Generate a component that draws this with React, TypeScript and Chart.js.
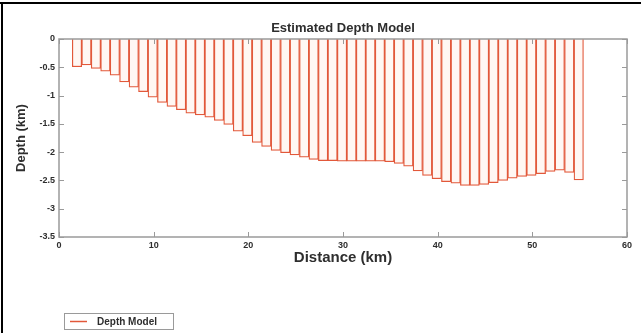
import React, { useEffect, useRef } from "react";
import { Chart, registerables } from "chart.js";

Chart.register(...registerables);

// Distance along the profile (km), one value per model cell
const distanceKm = [
  1.9, 2.9, 3.9, 4.9, 5.9, 6.9, 7.9, 8.9, 9.9, 10.9,
  11.9, 12.9, 13.9, 14.9, 15.9, 16.9, 17.9, 18.9, 19.9, 20.9,
  21.9, 22.9, 23.9, 24.9, 25.9, 26.9, 27.9, 28.9, 29.9, 30.9,
  31.9, 32.9, 33.9, 34.9, 35.9, 36.9, 37.9, 38.9, 39.9, 40.9,
  41.9, 42.9, 43.9, 44.9, 45.9, 46.9, 47.9, 48.9, 49.9, 50.9,
  51.9, 52.9, 53.9, 54.9,
];

// Estimated basement depth for each cell (km, negative downwards)
const modelDepthKm = [
  -0.49, -0.46, -0.52, -0.57, -0.64, -0.76, -0.85, -0.93, -1.03, -1.12,
  -1.19, -1.25, -1.31, -1.34, -1.38, -1.44, -1.51, -1.63, -1.71, -1.83,
  -1.9, -1.97, -2.01, -2.05, -2.09, -2.13, -2.15, -2.15, -2.16, -2.16,
  -2.16, -2.16, -2.16, -2.17, -2.2, -2.25, -2.33, -2.41, -2.47, -2.52,
  -2.55, -2.59, -2.59, -2.57, -2.54, -2.5, -2.46, -2.43, -2.41, -2.38,
  -2.34, -2.32, -2.36, -2.49,
];

const xTickValues = [0, 10, 20, 30, 40, 50, 60];
const yTickValues = [0, -0.5, -1, -1.5, -2, -2.5, -3, -3.5];

const chartTitle = "Estimated Depth Model";
const xAxisTitle = "Distance (km)";
const yAxisTitle = "Depth (km)";
const seriesName = "Depth Model";

const FONT = "'Liberation Sans', Arial, Helvetica, sans-serif";
const BAR_EDGE = "#e2583a";
const BAR_FILL = "#fff7f3";
const AXIS_COLOR = "#9a9a9a";
const TEXT_COLOR = "#2e2e2e";

// Box around the axes with inward ticks, the title, the legend and the page frame
const decorPlugin = {
  id: "decor",
  afterDraw(chart: any) {
    const { ctx, chartArea } = chart;
    const { left, right, top, bottom } = chartArea;
    const xs = chart.scales.x;
    const ys = chart.scales.y;
    ctx.save();

    // axes box
    ctx.strokeStyle = AXIS_COLOR;
    ctx.lineWidth = 1.5;
    ctx.strokeRect(left, top, right - left, bottom - top);

    // inward tick marks on all four sides
    const tl = 5;
    ctx.lineWidth = 1;
    ctx.beginPath();
    for (const v of xTickValues) {
      const px = Math.round(xs.getPixelForValue(v)) + 0.5;
      ctx.moveTo(px, bottom);
      ctx.lineTo(px, bottom - tl);
      ctx.moveTo(px, top);
      ctx.lineTo(px, top + tl);
    }
    for (const v of yTickValues) {
      const py = Math.round(ys.getPixelForValue(v)) + 0.5;
      ctx.moveTo(left, py);
      ctx.lineTo(left + tl, py);
      ctx.moveTo(right, py);
      ctx.lineTo(right - tl, py);
    }
    ctx.stroke();

    // title
    ctx.fillStyle = TEXT_COLOR;
    ctx.font = `bold 13px ${FONT}`;
    ctx.textAlign = "center";
    ctx.textBaseline = "middle";
    ctx.fillText(chartTitle, (left + right) / 2, 28);

    // legend
    const lx = 64.5, ly = 313.5, lw = 109, lh = 16;
    ctx.fillStyle = "#ffffff";
    ctx.fillRect(lx, ly, lw, lh);
    ctx.strokeStyle = AXIS_COLOR;
    ctx.lineWidth = 1;
    ctx.strokeRect(lx, ly, lw, lh);
    ctx.strokeStyle = BAR_EDGE;
    ctx.lineWidth = 1.5;
    ctx.beginPath();
    ctx.moveTo(70, ly + lh / 2);
    ctx.lineTo(87, ly + lh / 2);
    ctx.stroke();
    ctx.fillStyle = TEXT_COLOR;
    ctx.font = `bold 10px ${FONT}`;
    ctx.textAlign = "left";
    ctx.fillText(seriesName, 97, ly + lh / 2 + 0.5);

    // page frame (top and left edges)
    ctx.strokeStyle = "#000000";
    ctx.lineWidth = 2;
    ctx.beginPath();
    ctx.moveTo(0, 3);
    ctx.lineTo(chart.width, 3);
    ctx.moveTo(2, 2);
    ctx.lineTo(2, chart.height);
    ctx.stroke();

    ctx.restore();
  },
};

export default function App() {
  const canvasRef = useRef<HTMLCanvasElement>(null);

  useEffect(() => {
    const canvas = canvasRef.current;
    if (!canvas) return;
    const points = distanceKm.map((x, i) => ({ x, y: modelDepthKm[i] }));

    const chart = new Chart(canvas, {
      type: "bar",
      data: {
        datasets: [
          {
            label: seriesName,
            data: points as any,
            backgroundColor: BAR_FILL,
            borderColor: BAR_EDGE,
            borderWidth: 1.25,
            borderSkipped: "start",
            barPercentage: 1,
            categoryPercentage: 1,
          },
        ],
      },
      options: {
        responsive: false,
        animation: false,
        devicePixelRatio: 1,
        layout: { padding: { left: 0, top: 39, right: 14, bottom: 0 } },
        plugins: {
          legend: { display: false },
          title: { display: false },
          tooltip: { enabled: false },
        },
        scales: {
          x: {
            type: "linear",
            min: 0,
            max: 60,
            offset: false,
            grid: { display: false, drawTicks: false },
            border: { display: false },
            afterBuildTicks: (s: any) => {
              s.ticks = xTickValues.map((v) => ({ value: v }));
            },
            ticks: {
              padding: 3,
              autoSkip: false,
              maxRotation: 0,
              color: TEXT_COLOR,
              font: { family: FONT, size: 9, weight: "bold" },
              callback: (v: any) => String(v),
            },
            title: {
              display: true,
              text: xAxisTitle,
              color: TEXT_COLOR,
              font: { family: FONT, size: 15, weight: "bold" },
              padding: { top: 0, bottom: 66 },
            },
            afterFit: (s: any) => {
              s.height = 96;
            },
          },
          y: {
            type: "linear",
            min: -3.5,
            max: 0,
            grid: { display: false, drawTicks: false },
            border: { display: false },
            afterBuildTicks: (s: any) => {
              s.ticks = yTickValues.map((v) => ({ value: v }));
            },
            ticks: {
              padding: 4,
              autoSkip: false,
              color: TEXT_COLOR,
              font: { family: FONT, size: 9, weight: "bold" },
              callback: (v: any) => String(v),
            },
            title: {
              display: true,
              text: yAxisTitle,
              color: TEXT_COLOR,
              font: { family: FONT, size: 13, weight: "bold" },
              padding: { top: 14, bottom: 0 },
            },
            afterFit: (s: any) => {
              s.width = 59;
            },
          },
        },
      } as any,
      plugins: [decorPlugin],
    });

    return () => chart.destroy();
  }, []);

  return (
    <div
      style={{
        position: "absolute",
        left: 0,
        top: 0,
        width: 641,
        height: 333,
        background: "#ffffff",
      }}
    >
      <canvas ref={canvasRef} width={641} height={333} />
    </div>
  );
}
